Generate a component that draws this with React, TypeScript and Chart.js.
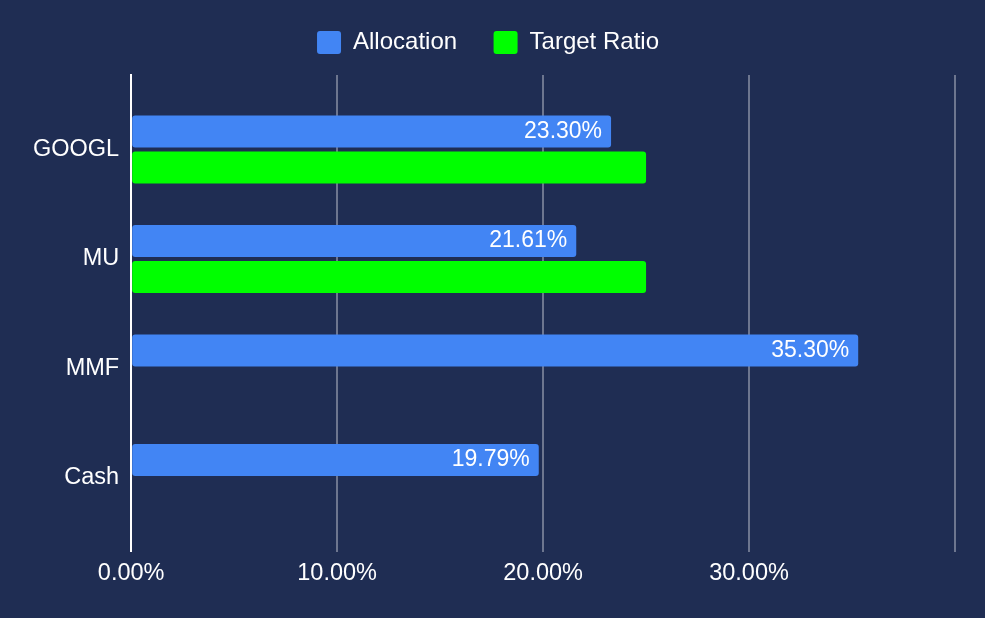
import React, { useEffect, useRef } from 'react';
import { Chart, registerables } from 'chart.js';

Chart.register(...registerables);

const categories = ['GOOGL', 'MU', 'MMF', 'Cash'];
const allocation = [23.3, 21.61, 35.3, 19.79];
const targetRatio: (number | null)[] = [25, 25, null, null];
const seriesNames = ['Allocation', 'Target Ratio'];
const xMax = 40;
const xStep = 10;

const BG = '#1f2d53';
const BLUE = '#4285f4';
const GREEN = '#00ff00';
const FONT = "'Liberation Sans', Arial, sans-serif";

export default function App() {
  const ref = useRef<HTMLCanvasElement>(null);

  useEffect(() => {
    if (!ref.current) return;

    const legendSpacer = {
      id: 'legendSpacer',
      beforeInit(chart: any) {
        const legend = chart.legend;
        if (!legend) return;
        const orig = legend.fit;
        legend.fit = function () {
          orig.call(this);
          this.height += 10.5;
        };
      },
    };

    const barLabels = {
      id: 'barLabels',
      afterDatasetsDraw(chart: any) {
        const meta = chart.getDatasetMeta(0);
        const ctx = chart.ctx;
        ctx.save();
        ctx.font = `23px ${FONT}`;
        ctx.fillStyle = '#ffffff';
        ctx.textAlign = 'right';
        ctx.textBaseline = 'middle';
        meta.data.forEach((bar: any, i: number) => {
          const v = allocation[i];
          ctx.fillText(v.toFixed(2) + '%', bar.x - 9, bar.y);
        });
        ctx.restore();
      },
    };

    const catLabel = (v: any) => {
      const r = Math.round(Number(v));
      return Math.abs(Number(v) - r) < 1e-6 && categories[r] !== undefined ? categories[r] : '';
    };

    const chart = new Chart(ref.current, {
      type: 'bar',
      data: {
        datasets: [
          {
            label: seriesNames[0],
            data: allocation.map((v, i) => ({ x: v, y: i })),
            backgroundColor: BLUE,
            borderRadius: 3,
            borderSkipped: false,
            categoryPercentage: 0.6585,
            barPercentage: 0.8889,
          },
          {
            label: seriesNames[1],
            data: targetRatio
              .map((v, i) => (v == null ? null : { x: v, y: i }))
              .filter((p) => p !== null) as any,
            backgroundColor: GREEN,
            borderRadius: 3,
            borderSkipped: false,
            categoryPercentage: 0.6585,
            barPercentage: 0.8889,
          },
        ],
      },
      options: {
        indexAxis: 'y',
        animation: false,
        responsive: true,
        maintainAspectRatio: false,
        layout: {
          padding: { top: -6, left: 21, right: 30, bottom: 22 },
        },
        scales: {
          x: {
            type: 'linear',
            position: 'bottom',
            min: 0,
            max: xMax,
            ticks: {
              stepSize: xStep,
              color: '#ffffff',
              font: { family: FONT, size: 23.5 },
              padding: 8,
              callback: (v: any) => (v === xMax ? '' : Number(v).toFixed(2) + '%'),
            },
            grid: {
              color: (c: any) => (c.tick && c.tick.value === 0 ? 'rgba(0,0,0,0)' : 'rgba(255,255,255,0.35)'),
              lineWidth: 2,
              drawTicks: false,
            },
            border: { display: false },
          },
          y: {
            type: 'linear',
            position: 'left',
            reverse: true,
            bounds: 'data',
            offset: false,
            min: -0.68,
            max: 3.674,
            afterBuildTicks: (scale: any) => {
              scale.ticks = categories.map((_, i) => ({ value: i }));
            },
            ticks: {
              autoSkip: false,
              color: '#ffffff',
              font: { family: FONT, size: 23.5 },
              padding: 12,
              callback: catLabel,
            },
            grid: { display: false, drawTicks: false, offset: false },
            border: { display: true, color: '#ffffff', width: 2 },
          },
        },
        plugins: {
          legend: {
            display: true,
            position: 'top',
            labels: {
              color: '#ffffff',
              font: { family: FONT, size: 24 },
              boxWidth: 24,
              boxHeight: 23,
              useBorderRadius: true,
              borderRadius: 3,
              padding: 36.5,
            },
          },
          tooltip: { enabled: false },
        },
      } as any,
      plugins: [legendSpacer, barLabels],
    });

    return () => chart.destroy();
  }, []);

  return (
    <div style={{ position: 'fixed', left: 0, top: 0, width: 985, height: 618, background: BG }}>
      <canvas ref={ref} />
    </div>
  );
}
